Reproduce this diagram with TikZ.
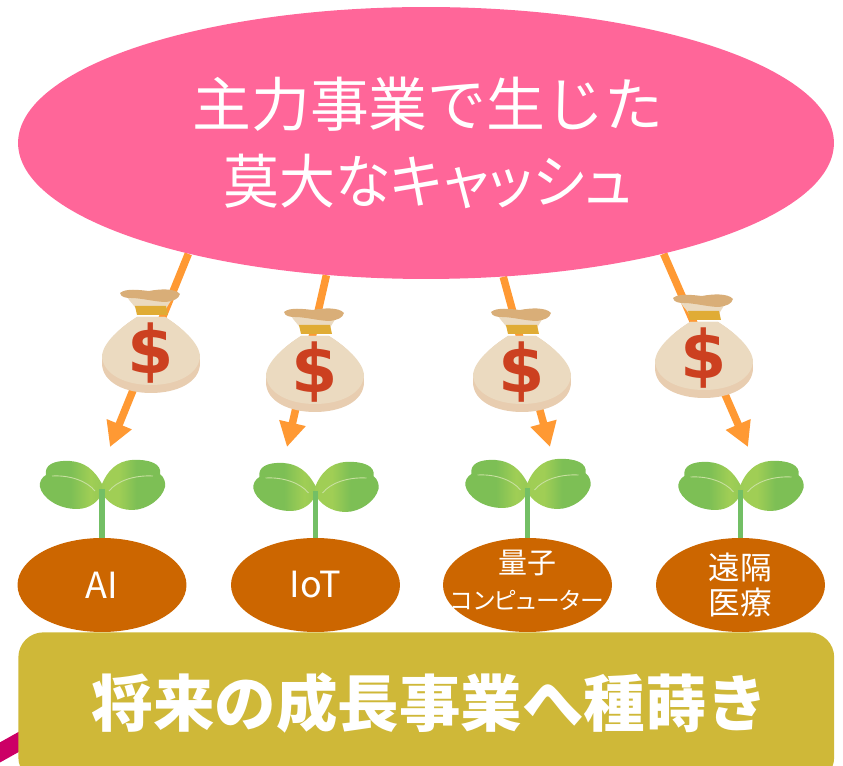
\documentclass[tikz,border=0pt]{standalone}
\usepackage{fontspec}
\usepackage{tikz}
\usetikzlibrary{shapes.geometric,arrows.meta,backgrounds}
\newfontfamily\jpfont{Noto Sans CJK JP}
\newfontfamily\jppropfont[RawFeature=+palt]{Noto Sans CJK JP}
\newfontfamily\signfont{DejaVu Sans}
\definecolor{cashpink}{HTML}{FF6699}
\definecolor{soilbrown}{HTML}{CC6600}
\definecolor{groundgold}{HTML}{CFB838}
\definecolor{flowgold}{HTML}{FF9933}
\definecolor{arcred}{HTML}{CC0066}
\definecolor{bagbody}{HTML}{EBDAC0}
\definecolor{bagshade}{HTML}{E8CDB0}
\definecolor{bagtop}{HTML}{D9AE78}
\definecolor{bagknot}{HTML}{E0AC35}
\definecolor{signred}{HTML}{CC4020}
\definecolor{leafgreen}{HTML}{7DBF55}
\definecolor{leaflight}{HTML}{A0CE55}
\definecolor{veinlight}{HTML}{C8E0A0}
\definecolor{stemgreen}{HTML}{73BF65}
\pgfdeclarehorizontalshading{leafleft}{100bp}{color(0bp)=(leafgreen); color(50bp)=(leafgreen); color(66bp)=(leaflight); color(100bp)=(leafgreen)}
\pgfdeclarehorizontalshading{leafright}{100bp}{color(0bp)=(leafgreen); color(28bp)=(leaflight); color(38bp)=(leaflight); color(52bp)=(leafgreen); color(100bp)=(leafgreen)}
\tikzset{
  soil/.style={ellipse,fill=soilbrown,text=white,minimum width=3.38cm,minimum height=1.88cm,inner xsep=0pt,inner ysep=-10pt,align=center,font=\jpfont\fontsize{20.5pt}{24pt}\selectfont},
  flow/.style={line width=4.3pt,flowgold,-{Triangle[length=14pt,width=14.5pt]}},
  stem/.style={line width=2.9pt,stemgreen},
  moneybag/.pic={
    % body
    \fill[bagshade] (-14,-36) .. controls (-30,-26) and (-49,-10) .. (-49,10) .. controls (-49,30) and (-25,40) .. (0,40) .. controls (25,40) and (49,30) .. (49,10) .. controls (49,-10) and (30,-26) .. (14,-36) -- cycle;
    \fill[bagbody] (-14,-36) .. controls (-30,-26) and (-49,-10) .. (-49,4) .. controls (-47,22) and (-25,32) .. (0,32) .. controls (25,32) and (47,22) .. (49,4) .. controls (49,-10) and (30,-26) .. (14,-36) -- cycle;
    % neck, knot and top
    \fill[bagbody] (-24,-56) .. controls (-20,-50) and (-17,-48) .. (-15,-44) -- (15,-44) .. controls (17,-48) and (20,-52) .. (22,-56) -- cycle;
    \fill[bagknot] (-16,-47) -- (15,-47) -- (17,-38) -- (-14,-38) -- cycle;
    \fill[bagtop] (-31,-60) .. controls (-25,-65) and (-12,-63) .. (-2,-62) .. controls (8,-64) and (24,-65) .. (29,-59) .. controls (28,-54) and (22,-52) .. (15,-51) .. controls (5,-51) and (-10,-55) .. (-20,-55) .. controls (-26,-55) and (-30,-56) .. (-31,-60) -- cycle;
    \node[signred,font=\signfont\bfseries\fontsize{38pt}{38pt}\selectfont,inner sep=0pt] (sign) at (0,0) {\$};
  },
  sprout/.pic={
    \shade[shading=leafleft] (0,-5) .. controls (-8,-20) and (-18,-27) .. (-32,-28) .. controls (-48,-29) and (-58,-24) .. (-56,-14) .. controls (-60,-12) and (-63,-7) .. (-62,-2) .. controls (-60,8) and (-45,20) .. (-25,20) .. controls (-12,20) and (-3,12) .. (0,4) -- cycle;
    \shade[shading=leafright] (0,-5) .. controls (5,-17) and (14,-28) .. (30,-29) .. controls (48,-30) and (60,-25) .. (58,-15) .. controls (62,-12) and (64,-6) .. (63,-2) .. controls (60,10) and (45,21) .. (30,21) .. controls (15,21) and (4,12) .. (0,4) -- cycle;
    \draw[veinlight,line width=0.5pt] (-50,-13) .. controls (-32,-14) and (-15,-8) .. (-7,2);
    \draw[veinlight,line width=0.5pt] (7,2) .. controls (15,-8) and (32,-14) .. (51,-13);
    \coordinate (base) at (0,0);
  }
}

\begin{document}
\begin{tikzpicture}[x=0.02cm,y=-0.02cm]
\clip (0,0) rectangle (843,766);
% Arc behind the ground box
\coordinate (arcA) at (-10,758);
\coordinate (arcB) at (40,730);
\draw[arcred,line width=10pt] (arcA) -- (arcB);
% Ground and cash
\node[rectangle,rounded corners=0.5cm,fill=groundgold,text=white,minimum width=16.32cm,minimum height=3cm,inner sep=0pt,anchor=north west] (ground) at (18,632) {};
\node[font=\jpfont\bfseries\fontsize{35pt}{40pt}\selectfont,text=white,inner sep=0pt] (groundlabel) at (430,703) {将来の成長事業へ種蒔き};
\node[ellipse,fill=cashpink,text=white,minimum width=16.32cm,minimum height=5.44cm,inner sep=0pt,align=center,font=\jpfont\fontsize{33.5pt}{43.5pt}\selectfont] (cash) at (426,143) {\hspace*{2pt}\raisebox{-1.5pt}{主力事業で生じた}\\\hspace*{2pt}\raisebox{-1.5pt}{\jppropfont\scalebox{0.95}[1]{莫大なキャッシュ}}};
% Fields
\node[soil] (ai) at (102,585) {AI};
\node[soil] (iot) at (315.5,585) {IoT};
\node[soil,font=\jpfont\fontsize{16.5pt}{19pt}\selectfont] (quantum) at (527.5,585) {\raisebox{7pt}{量子}\\\raisebox{5.5pt}{\makebox[0pt]{\jppropfont\fontsize{13.5pt}{16pt}\selectfont コンピューター}}};
\node[soil,font=\jpfont\fontsize{18pt}{19.5pt}\selectfont] (remote) at (740.5,585) {\raisebox{-4.5pt}{遠隔}\\\raisebox{-4.5pt}{医療}};
% Sprouts
\pic (sproutA) at (102,489) {sprout};
\pic (sproutB) at (315.5,491) {sprout};
\pic (sproutC) at (527.5,488) {sprout};
\pic (sproutD) at (740.5,490) {sprout};
\draw[stem] (sproutAbase) -- (ai.north);
\draw[stem] (sproutBbase) -- (iot.north);
\draw[stem] (sproutCbase) -- (quantum.north);
\draw[stem] (sproutDbase) -- (remote.north);
% Money bags
\pic (bagA) at (151,353) {moneybag};
\pic (bagB) at (315,372) {moneybag};
\pic (bagC) at (522,372) {moneybag};
\pic (bagD) at (704,358) {moneybag};
% Flows run behind the bags
\coordinate (tipA) at (110,447);
\coordinate (tipB) at (287,447);
\coordinate (tipC) at (550,447);
\coordinate (tipD) at (748,447);
\begin{scope}[on background layer]
\draw[flow] (cash.205.5) -- (tipA);
\draw[flow] (cash.233) -- (tipB);
\draw[flow] (cash.300) -- (tipC);
\draw[flow] (cash.335.2) -- (tipD);
\end{scope}
\end{tikzpicture}
\end{document}
